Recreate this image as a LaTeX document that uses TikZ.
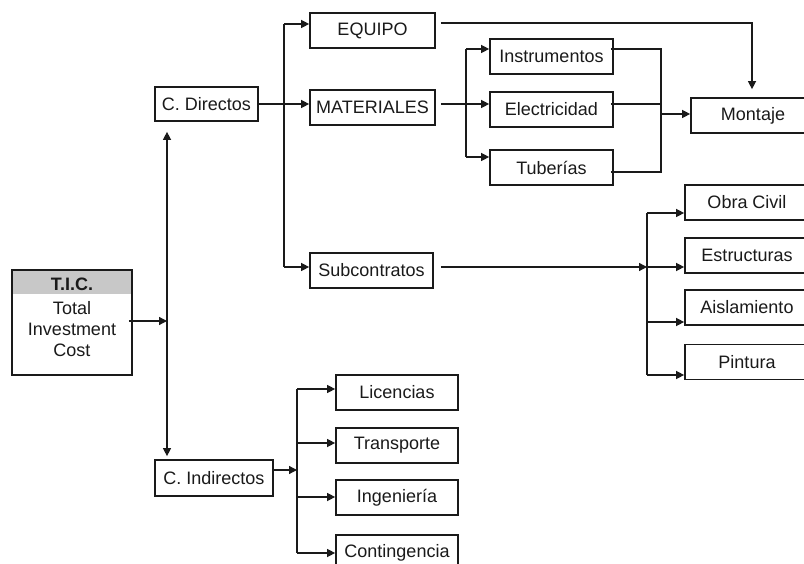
\documentclass[tikz,border=0pt]{standalone}
\usepackage{fontspec}
\setmainfont{Liberation Sans}
\usetikzlibrary{arrows.meta,calc}
\definecolor{ink}{HTML}{1A1A1A}
\definecolor{headgray}{HTML}{C8C8C8}
\begin{document}
\begin{tikzpicture}[x=1pt,y=-1pt,
  font=\fontsize{18}{21}\selectfont,
  box/.style={draw=ink, line width=1.7pt, fill=white, inner sep=0pt,
              minimum height=35pt, text=ink},
  link/.style={draw=ink, line width=1.3pt},
  arr/.style={link, -{Triangle[length=8pt,width=8pt]}},
  dblarr/.style={link, {Triangle[length=8pt,width=8pt]}-{Triangle[length=8pt,width=8pt]}},
]
\useasboundingbox[fill=white] (0,0) rectangle (804,564);

% ---- root ----
\node[box, minimum width=120pt, minimum height=105pt,
      path picture={\fill[headgray] (path picture bounding box.north west)
        rectangle ([yshift=-24pt]path picture bounding box.north east);}]
      (tic) at (72,322.5) {};
\node[font=\fontsize{18}{21}\selectfont\bfseries, text=ink] (tictitle) at (72,284) {T.I.C.};
\node[align=center, text=ink] (ticbody) at (72,329) {Total\\Investment\\Cost};

% ---- first level ----
\node[box, minimum width=103pt, minimum height=34pt] (cdir) at (206.5,104) {C. Directos};
\node[box, minimum width=118pt, minimum height=36pt] (cind) at (214,478) {C. Indirectos};

% ---- direct costs ----
\node[box, minimum width=125pt] (equipo) at (372.5,30.5) {EQUIPO};
\node[box, minimum width=125pt] (mat) at (372.5,107.5) {MATERIALES};
\node[box, minimum width=123pt] (sub) at (371.5,270.5) {Subcontratos};

\node[box, minimum width=123pt] (instr) at (551.5,56.5) {Instrumentos};
\node[box, minimum width=123pt] (elec) at (551.5,109.5) {Electricidad};
\node[box, minimum width=123pt] (tub) at (551.5,167.5) {Tuberías};

\node[box, minimum width=124pt] (mont) at (753,115.5) {Montaje};

\node[box, minimum width=124pt] (obra) at (747,202.5) {Obra Civil};
\node[box, minimum width=124pt] (estr) at (747,255.5) {Estructuras};
\node[box, minimum width=124pt] (aisl) at (747,307.5) {Aislamiento};
\node[box, minimum width=124pt] (pint) at (747,362) {Pintura};

% ---- indirect costs ----
\node[box, minimum width=122pt] (lic) at (397,392.5) {Licencias};
\node[box, minimum width=122pt] (trans) at (397,445.5) {Transporte};
\node[box, minimum width=122pt] (ing) at (397,497.5) {Ingeniería};
\node[box, minimum width=122pt] (cont) at (397,552.5) {Contingencia};

% ---- root to both cost groups ----
\coordinate (tx) at (167,321);
\draw[arr] ($(tic.east |- tx)+(-4,0)$) -- (tx);
\draw[dblarr, shorten <=10pt, shorten >=3pt] (cdir.south -| tx) -- (cind.north -| tx);

% ---- C. Directos branch ----
\coordinate (da) at (284,24);
\coordinate (db) at (284,267);
\draw[link] (da) -- (db);
\draw[arr] (da) -- (da -| equipo.west);
\draw[arr] (cdir.east) -- (cdir.east -| mat.west);
\draw[arr] (db) -- (db -| sub.west);

% EQUIPO feeds Montaje
\coordinate (eq) at (752,23);
\draw[arr] ($(equipo.east |- eq)+(5,0)$) -- (eq) -- ($(eq |- mont.north)+(0,-8)$);

% MATERIALES split
\coordinate (mx) at (466,104);
\coordinate (m1) at (466,49);
\coordinate (m3) at (466,157);
\draw[link] ($(mat.east |- mx)+(5,0)$) -- (mx);
\draw[link] (m1) -- (m3);
\draw[arr] (m1) -- (m1 -| instr.west);
\draw[arr] (mx) -- (mx -| elec.west);
\draw[arr] (m3) -- (m3 -| tub.west);

% materials collected into Montaje
\coordinate (r1) at (661,49);
\coordinate (r2) at (661,104);
\coordinate (r3) at (661,172);
\coordinate (rm) at (661,114);
\draw[link] ($(instr.east |- r1)+(-3,0)$) -- (r1) -- (r3) -- ($(tub.east |- r3)+(-3,0)$);
\draw[link] ($(elec.east |- r2)+(-3,0)$) -- (r2);
\draw[arr] (rm) -- (rm -| mont.west);

% Subcontratos split
\coordinate (s0) at (647,267);
\coordinate (s1) at (647,213);
\coordinate (s3) at (647,322);
\coordinate (s4) at (647,375);
\draw[arr] ($(sub.east |- s0)+(7,0)$) -- (s0);
\draw[link] (s1) -- (s4);
\draw[arr] (s1) -- (s1 -| obra.west);
\draw[arr] (s0) -- (s0 -| estr.west);
\draw[arr] (s3) -- (s3 -| aisl.west);
\draw[arr] (s4) -- (s4 -| pint.west);

% ---- C. Indirectos split ----
\coordinate (c0) at (297,470);
\coordinate (c1) at (297,389);
\coordinate (c2) at (297,443);
\coordinate (c3) at (297,497);
\coordinate (c4) at (297,553);
\draw[arr] (cind.east |- c0) -- (c0);
\draw[link] (c1) -- (c4);
\draw[arr] (c1) -- (c1 -| lic.west);
\draw[arr] (c2) -- (c2 -| trans.west);
\draw[arr] (c3) -- (c3 -| ing.west);
\draw[arr] (c4) -- (c4 -| cont.west);
\end{tikzpicture}
\end{document}
